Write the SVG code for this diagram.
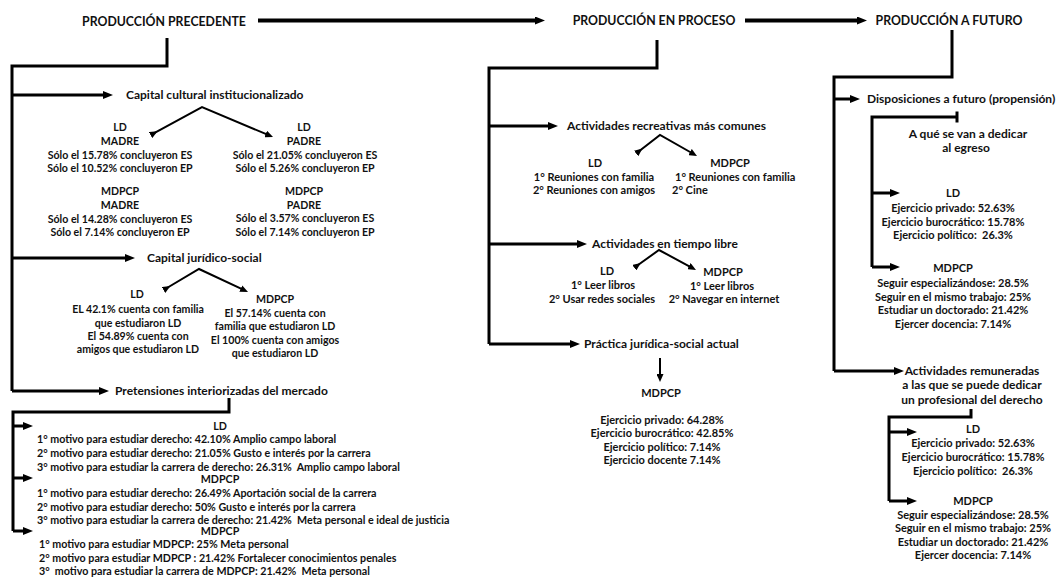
<svg xmlns="http://www.w3.org/2000/svg" width="1058" height="579" viewBox="0 0 1058 579">
<style>
text{font-family:Lato,"Open Sans","Liberation Sans",sans-serif;font-weight:bold;fill:#111;white-space:pre}
.h{font-size:12.3px}
.s{font-size:12px}
.d{font-size:11px}
.e{font-size:10.6px}
.l{font-size:10.7px}
.c{text-anchor:middle}
.w{fill:none;stroke:#000;stroke-width:3;stroke-linejoin:miter}
.t{fill:none;stroke:#000;stroke-width:4}
.b{fill:none;stroke:#000;stroke-width:2}
</style>
<defs>
<marker id="ah" markerUnits="userSpaceOnUse" markerWidth="10" markerHeight="8" refX="2" refY="4" orient="auto"><path d="M0,0 L10,4 L0,8 z" fill="#000"/></marker>
<marker id="as" markerUnits="userSpaceOnUse" markerWidth="8" markerHeight="7" refX="2" refY="3.5" orient="auto"><path d="M0,0 L8,3.5 L0,7 z" fill="#000"/></marker>
</defs>
<rect width="1058" height="579" fill="#fff"/>
<g id="connectors">
<path class="t" d="M258,20.5 H537" marker-end="url(#ah)"/>
<path class="t" d="M745,20.5 H859" marker-end="url(#ah)"/>
<path class="w" d="M167,38 V66 H12 V391"/>
<path class="w" d="M12,95 H105" marker-end="url(#ah)"/>
<path class="w" d="M12,258 H127" marker-end="url(#ah)"/>
<path class="w" d="M12,391 H101" marker-end="url(#ah)"/>
<path class="b" d="M152.3,134.1 L202,107 L267.5,134.7" marker-start="url(#as)" marker-end="url(#as)"/>
<path class="b" d="M165.2,289 L199,269 L242.6,289.4" marker-start="url(#as)" marker-end="url(#as)"/>
<path class="w" d="M229,398 V412 H13 V531"/>
<path class="w" d="M13,426 H25" marker-end="url(#ah)"/>
<path class="w" d="M13,478 H25" marker-end="url(#ah)"/>
<path class="w" d="M13,531 H25" marker-end="url(#ah)"/>
<path class="w" d="M657,40 V68 H489 V344"/>
<path class="w" d="M489,126 H550" marker-end="url(#ah)"/>
<path class="w" d="M489,244 H579" marker-end="url(#ah)"/>
<path class="w" d="M489,344 H572" marker-end="url(#ah)"/>
<path class="b" d="M637.7,152.3 L660,135 L691.8,153" marker-start="url(#as)" marker-end="url(#as)"/>
<path class="b" d="M635.9,266.5 L659,250 L690.7,267.1" marker-start="url(#as)" marker-end="url(#as)"/>
<path class="b" d="M660,358 V376" marker-end="url(#as)"/>
<path class="w" d="M952,30 V77 H834 V371"/>
<path class="w" d="M834,99 H852" marker-end="url(#ah)"/>
<path class="w" d="M834,371 H896" marker-end="url(#ah)"/>
<path class="w" d="M957,117 H872 V267"/>
<path class="w" d="M957,111.5 V122.5"/>
<path class="w" d="M872,193 H892" marker-end="url(#ah)"/>
<path class="w" d="M872,267 H892" marker-end="url(#ah)"/>
<path class="w" d="M971,409 V417 H889 V501"/>
<path class="w" d="M889,432 H909" marker-end="url(#ah)"/>
<path class="w" d="M889,501 H909" marker-end="url(#ah)"/>
</g>
<g id="produccion-precedente"><text class="h c" x="164" y="26">PRODUCCIÓN PRECEDENTE</text></g>
<g id="produccion-en-proceso"><text class="h c" x="654" y="25">PRODUCCIÓN EN PROCESO</text></g>
<g id="produccion-a-futuro"><text class="h c" x="949" y="25">PRODUCCIÓN A FUTURO</text></g>
<g id="capital-cultural">
<text class="s" x="126" y="99">Capital cultural institucionalizado</text>
<text class="e c" x="120" y="131">LD</text>
<text class="e c" x="120" y="145">MADRE</text>
<text class="e c" x="120" y="159">Sólo el 15.78% concluyeron ES</text>
<text class="e c" x="120" y="172">Sólo el 10.52% concluyeron EP</text>
<text class="e c" x="120" y="195">MDPCP</text>
<text class="e c" x="120" y="209">MADRE</text>
<text class="e c" x="120" y="223">Sólo el 14.28% concluyeron ES</text>
<text class="e c" x="120" y="236">Sólo el 7.14% concluyeron EP</text>
<text class="e c" x="304" y="131">LD</text>
<text class="e c" x="304" y="145">PADRE</text>
<text class="e c" x="305" y="159">Sólo el 21.05% concluyeron ES</text>
<text class="e c" x="305" y="172">Sólo el 5.26% concluyeron EP</text>
<text class="e c" x="304" y="195">MDPCP</text>
<text class="e c" x="304" y="209">PADRE</text>
<text class="e c" x="305" y="222">Sólo el 3.57% concluyeron ES</text>
<text class="e c" x="305" y="236">Sólo el 7.14% concluyeron EP</text>
</g>
<g id="capital-juridico">
<text class="s" x="147" y="262">Capital jurídico-social</text>
<text class="e c" x="137" y="298">LD</text>
<text class="e c" x="138" y="313">EL 42.1% cuenta con familia</text>
<text class="e c" x="138" y="327">que estudiaron LD</text>
<text class="e c" x="138" y="340">El 54.89% cuenta con</text>
<text class="e c" x="138" y="353">amigos que estudiaron LD</text>
<text class="e c" x="275" y="303">MDPCP</text>
<text class="e c" x="275" y="317">El 57.14% cuenta con</text>
<text class="e c" x="275" y="330">familia que estudiaron LD</text>
<text class="e c" x="275" y="344">El 100% cuenta con amigos</text>
<text class="e c" x="275" y="357">que estudiaron LD</text>
</g>
<g id="pretensiones">
<text class="s" x="115" y="395">Pretensiones interiorizadas del mercado</text>
<text class="l c" x="220" y="430">LD</text>
<text class="l" x="37" y="443">1° motivo para estudiar derecho: 42.10% Amplio campo laboral</text>
<text class="l" x="37" y="457">2° motivo para estudiar derecho: 21.05% Gusto e interés por la carrera</text>
<text class="l" x="37" y="471">3° motivo para estudiar la carrera de derecho: 26.31%  Amplio campo laboral</text>
<text class="l c" x="220" y="483">MDPCP</text>
<text class="l" x="37" y="497">1° motivo para estudiar derecho: 26.49% Aportación social de la carrera</text>
<text class="l" x="37" y="511">2° motivo para estudiar derecho: 50% Gusto e interés por la carrera</text>
<text class="l" x="37" y="524">3° motivo para estudiar la carrera de derecho: 21.42%  Meta personal e ideal de justicia</text>
<text class="l c" x="220" y="535">MDPCP</text>
<text class="l" x="39" y="548">1° motivo para estudiar MDPCP: 25% Meta personal</text>
<text class="l" x="39" y="562">2° motivo para estudiar MDPCP : 21.42% Fortalecer conocimientos penales</text>
<text class="l" x="39" y="575">3°  motivo para estudiar la carrera de MDPCP: 21.42%  Meta personal</text>
</g>
<g id="actividades-recreativas">
<text class="s" x="567" y="130">Actividades recreativas más comunes</text>
<text class="d c" x="595" y="167">LD</text>
<text class="d c" x="594" y="181">1° Reuniones con familia</text>
<text class="d c" x="594" y="194">2° Reuniones con amigos</text>
<text class="d c" x="730" y="167">MDPCP</text>
<text class="d" x="675" y="181">1° Reuniones con familia</text>
<text class="d" x="672" y="194">2° Cine</text>
</g>
<g id="tiempo-libre">
<text class="s" x="592" y="248">Actividades en tiempo libre</text>
<text class="d c" x="607" y="275">LD</text>
<text class="d c" x="603" y="289">1° Leer libros</text>
<text class="d c" x="602" y="303">2° Usar redes sociales</text>
<text class="d c" x="723" y="276">MDPCP</text>
<text class="d c" x="722" y="290">1° Leer libros</text>
<text class="d c" x="724" y="303">2° Navegar en internet</text>
</g>
<g id="practica-juridica">
<text class="s" x="584" y="348">Práctica jurídica-social actual</text>
<text class="d c" x="661" y="397">MDPCP</text>
<text class="d c" x="662" y="424">Ejercicio privado: 64.28%</text>
<text class="d c" x="662" y="437">Ejercicio burocrático: 42.85%</text>
<text class="d c" x="662" y="451">Ejercicio político: 7.14%</text>
<text class="d c" x="662" y="464">Ejercicio docente 7.14%</text>
</g>
<g id="disposiciones">
<text class="s" x="867" y="103">Disposiciones a futuro (propensión)</text>
<text class="s c" x="968" y="138">A qué se van a dedicar</text>
<text class="s c" x="966" y="152">al egreso</text>
<text class="d c" x="953" y="197">LD</text>
<text class="d c" x="953" y="212">Ejercicio privado: 52.63%</text>
<text class="d c" x="953" y="226">Ejercicio burocrático: 15.78%</text>
<text class="d c" x="953" y="239">Ejercicio político:  26.3%</text>
<text class="d c" x="953" y="272">MDPCP</text>
<text class="d c" x="953" y="287">Seguir especializándose: 28.5%</text>
<text class="d c" x="953" y="301">Seguir en el mismo trabajo: 25%</text>
<text class="d c" x="953" y="314">Estudiar un doctorado: 21.42%</text>
<text class="d c" x="953" y="328">Ejercer docencia: 7.14%</text>
</g>
<g id="actividades-remuneradas">
<text class="s c" x="972" y="375">Actividades remuneradas</text>
<text class="s c" x="972" y="389">a las que se puede dedicar</text>
<text class="s c" x="972" y="404">un profesional del derecho</text>
<text class="d c" x="973" y="433">LD</text>
<text class="d c" x="973" y="447">Ejercicio privado: 52.63%</text>
<text class="d c" x="973" y="461">Ejercicio burocrático: 15.78%</text>
<text class="d c" x="973" y="475">Ejercicio político:  26.3%</text>
<text class="d c" x="973" y="505">MDPCP</text>
<text class="d c" x="973" y="519">Seguir especializándose: 28.5%</text>
<text class="d c" x="973" y="532">Seguir en el mismo trabajo: 25%</text>
<text class="d c" x="973" y="546">Estudiar un doctorado: 21.42%</text>
<text class="d c" x="973" y="559">Ejercer docencia: 7.14%</text>
</g>
</svg>
